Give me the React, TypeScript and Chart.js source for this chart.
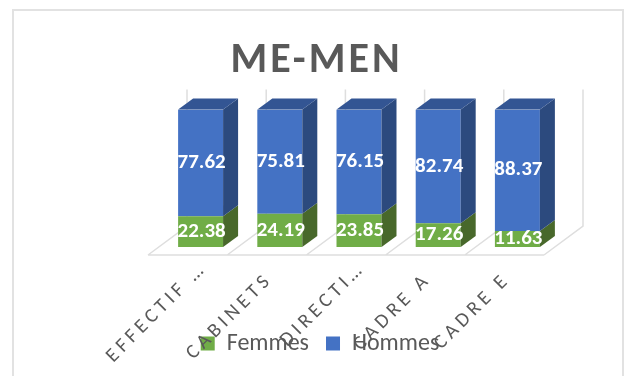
import React, { useEffect, useRef } from "react";
import { Chart, registerables } from "chart.js";

Chart.register(...registerables);

const categories = ["EFFECTIF …", "CABINETS", "DIRECTI…", "CADRE A", "CADRE E"];
const femmes = [22.38, 24.19, 23.85, 17.26, 11.63];
const hommes = [77.62, 75.81, 76.15, 82.74, 88.37];

const DX = 15;
const DY = 11;
const GRID = "#dedede";
const TXT = "#595959";
const FONT = "Carlito, Lato, 'Open Sans', sans-serif";

function spaced(ctx: CanvasRenderingContext2D, box: any, method: string, spacing: string) {
  if (box.__spaced) return;
  box.__spaced = true;
  const orig = box[method];
  box[method] = function (...args: any[]) {
    (ctx as any).letterSpacing = spacing;
    orig.apply(box, args);
    (ctx as any).letterSpacing = "0px";
  };
}

// Truncated labels sit a little higher and further right in the reference.
function nudgeTruncated(scale: any) {
  if (scale.__nudged) return;
  scale.__nudged = true;
  const orig = scale.getLabelItems;
  scale.getLabelItems = function (area: any) {
    const items = orig.call(scale, area);
    if (!items.__done) {
      items.__done = true;
      items.forEach((it: any) => {
        if (String(it.label).endsWith("…")) {
          const [tx, ty] = it.options.translation;
          it.options = { ...it.options, translation: [tx + 13, ty - 11] };
        }
      });
    }
    return items;
  };
}

const frame3d = {
  id: "frame3d",
  afterLayout(chart: any) {
    const ctx = chart.ctx;
    spaced(ctx, chart.titleBlock, "draw", "3px");
    spaced(ctx, chart.scales.x, "drawLabels", "4.2px");
    nudgeTruncated(chart.scales.x);
    chart.scales.x.bottom = 376;
    const lg = chart.legend;
    const h = lg.bottom - lg.top;
    lg.left = 12;
    lg.right = 628;
    lg.top = 340 - h / 2;
    lg.bottom = lg.top + h;
    chart.titleBlock.left = 5;
    chart.titleBlock.right = 628;
  },
  beforeDatasetsDraw(chart: any) {
    const { ctx, scales } = chart;
    const x = scales.x;
    const y = scales.y;
    const step = x.getPixelForValue(1) - x.getPixelForValue(0);
    const front = y.getPixelForValue(0) + 8;
    const back = front - 29;
    const top = y.getPixelForValue(100) - 20;
    const left = x.getPixelForValue(0) - step / 2 - 13;
    ctx.save();
    ctx.strokeStyle = GRID;
    ctx.lineWidth = 1.5;
    ctx.beginPath();
    ctx.moveTo(left, front);
    ctx.lineTo(left + step * categories.length, front);
    for (let i = 0; i <= categories.length; i++) {
      const xx = left + step * i;
      ctx.moveTo(xx, front);
      ctx.lineTo(xx + 39, back);
      ctx.lineTo(xx + 39, top);
    }
    ctx.stroke();
    ctx.restore();
  },
  afterDatasetsDraw(chart: any) {
    const { ctx } = chart;
    const sideColors = ["#48682b", "#2c4a7e"];
    const topColor = "#335593";
    ctx.save();
    chart.data.datasets.forEach((_: any, di: number) => {
      chart.getDatasetMeta(di).data.forEach((bar: any) => {
        const p = bar.getProps(["x", "y", "base", "width"], true);
        const r = p.x + p.width / 2;
        const l = p.x - p.width / 2;
        ctx.fillStyle = sideColors[di];
        ctx.beginPath();
        ctx.moveTo(r, p.y);
        ctx.lineTo(r + DX, p.y - DY);
        ctx.lineTo(r + DX, p.base - DY);
        ctx.lineTo(r, p.base);
        ctx.closePath();
        ctx.fill();
        if (di === 1) {
          ctx.fillStyle = topColor;
          ctx.beginPath();
          ctx.moveTo(l, p.y);
          ctx.lineTo(l + DX, p.y - DY);
          ctx.lineTo(r + DX, p.y - DY);
          ctx.lineTo(r, p.y);
          ctx.closePath();
          ctx.fill();
        }
      });
    });
    ctx.fillStyle = "#ffffff";
    ctx.font = `bold 21px ${FONT}`;
    ctx.textAlign = "center";
    ctx.textBaseline = "middle";
    chart.data.datasets.forEach((ds: any, di: number) => {
      chart.getDatasetMeta(di).data.forEach((bar: any, i: number) => {
        const p = bar.getProps(["x", "y", "base"], true);
        ctx.fillText(ds.data[i].toFixed(2), p.x + 1, (p.y + p.base) / 2);
      });
    });
    ctx.restore();
  },
};

export default function App() {
  const ref = useRef<HTMLCanvasElement>(null);
  useEffect(() => {
    const chart = new Chart(ref.current as HTMLCanvasElement, {
      type: "bar",
      data: {
        labels: categories,
        datasets: [
          { label: "Femmes", data: femmes, backgroundColor: "#70ad47", categoryPercentage: 1, barPercentage: 0.568 },
          { label: "Hommes", data: hommes, backgroundColor: "#4472c4", categoryPercentage: 1, barPercentage: 0.568 },
        ],
      },
      options: {
        animation: false,
        responsive: false,
        layout: { padding: { left: 161, right: 71, top: 0, bottom: 0 } },
        scales: {
          x: {
            stacked: true,
            grid: { display: false },
            border: { display: false },
            ticks: {
              color: TXT,
              font: { family: FONT, size: 20 },
              minRotation: 45,
              maxRotation: 45,
              autoSkip: false,
              padding: 13,
              labelOffset: -10,
            },
            afterFit(scale: any) {
              scale.height = 129 - (scale.chart.legend ? scale.chart.legend.height : 0);
            },
          },
          y: { stacked: true, min: 0, max: 100, display: false },
        },
        plugins: {
          title: {
            display: true,
            text: "ME-MEN",
            color: TXT,
            font: { family: FONT, size: 42, weight: "bold" },
            padding: { top: 36, bottom: 23 },
          },
          legend: {
            display: true,
            position: "bottom",
            labels: { color: TXT, font: { family: FONT, size: 24 }, boxWidth: 14, boxHeight: 14, padding: 17 },
          },
          tooltip: { enabled: false },
        },
      } as any,
      plugins: [frame3d],
    });
    return () => chart.destroy();
  }, []);
  return (
    <div style={{ position: "fixed", left: 0, top: 0, width: 628, height: 376, background: "#fff", overflow: "hidden" }}>
      <div style={{ position: "absolute", left: 12, top: 9, width: 608, height: 400, border: "2px solid #e2e2e2" }} />
      <canvas ref={ref} width={628} height={376} style={{ position: "absolute", left: 0, top: 0 }} />
    </div>
  );
}
